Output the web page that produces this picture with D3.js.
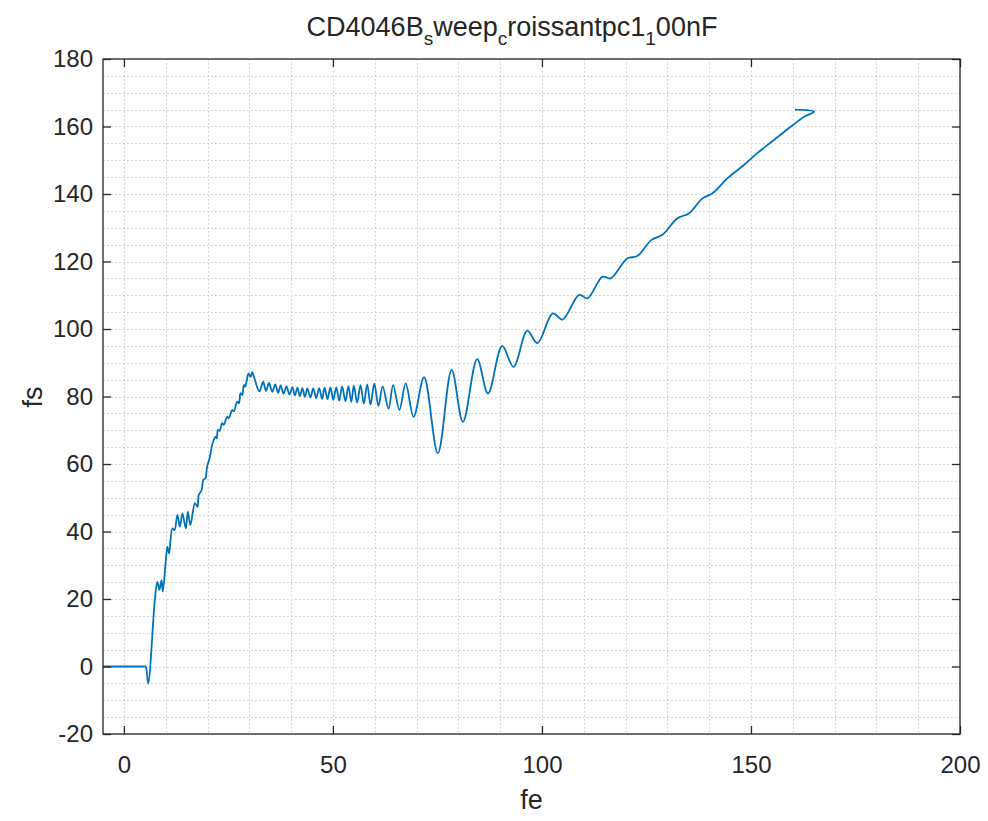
<!DOCTYPE html>
<html>
<head>
<meta charset="utf-8">
<script src="https://cdn.jsdelivr.net/npm/d3@7"></script>
<style>
  html, body { margin: 0; padding: 0; background: #ffffff; }
  svg { display: block; }
  text { font-family: "Liberation Sans", Arial, Helvetica, sans-serif; fill: #262626; }
</style>
</head>
<body>
<svg id="chart" width="988" height="821"></svg>
<script>
// Sweep measurement: input frequency fe against output frequency fs
const fe = [
  -5, -2, 1, 4, 4.8, 5.2, 5.8, 7.4, 8.0, 8.5, 9.0, 9.3, 10.0, 10.4, 10.8, 11.6, 12.1, 12.8, 13.4, 14.0,
  14.8, 15.3, 15.9, 17.0, 17.6, 17.9, 18.6, 19.0, 19.5, 19.9, 20.6, 21.1, 21.9, 22.2,
  22.5, 22.9, 23.5, 23.9, 24.7, 25.1, 25.9, 26.3, 27.1, 27.5, 27.9, 28.3, 28.7, 29.0,
  29.4, 29.8, 30.3, 30.7, 31.2,
  32.4, 33.3, 34.0, 34.7, 35.5, 36.2, 36.9, 37.5, 38.2, 38.9, 39.6, 40.3, 40.9, 41.5,
  42.1, 42.7, 43.3, 43.9, 44.6, 45.3, 46.0, 46.7, 47.4, 48.0, 48.7, 49.4, 50.1, 50.8,
  51.5, 52.2, 53.0, 53.7, 54.4, 55.0, 55.8, 56.6, 57.4, 58.2, 59.0, 59.9, 60.9, 61.9,
  63.3, 64.4, 65.9, 67.4, 69.3, 71.8, 75.1, 78.4, 81.1, 84.5, 87.1, 90.5, 93.2, 96.5,
  98.9, 102.6, 104.9, 108.9, 110.9, 114.5, 116.4, 120.4, 122.8, 126.2, 128.8, 132.4,
  135.2, 138.4, 140.8, 144.4, 148.3, 151.5, 155.5, 159.5, 162.7, 165.1, 160.5
];
const fs = [
  0, 0, 0, 0, 0, 0, -5, 19.7, 25.1, 22.7, 25.6, 22.2, 31.0, 35.5, 33.5, 40.9, 40.4, 44.9, 41.4, 45.4,
  40.9, 45.9, 41.9, 48.4, 47.3, 50.8, 52.3, 55.3, 55.8, 59.2, 62.2, 65.6, 68.1, 67.6,
  70.1, 69.8, 72.1, 71.6, 74.0, 73.6, 76.0, 75.6, 78.5, 78.0, 81.0, 80.4, 83.4, 82.9,
  84.9, 86.8, 85.8, 87.2, 85.5,
  81.5, 84.3, 81.7, 84.0, 81.4, 83.6, 81.1, 83.3, 80.8, 83.0, 80.6, 82.8, 80.3, 82.6,
  80.1, 82.5, 79.9, 82.4, 79.7, 82.4, 79.5, 82.5, 79.3, 82.6, 79.2, 82.7, 79.0, 82.8,
  78.8, 83.0, 78.6, 83.1, 78.4, 83.2, 78.2, 83.4, 77.9, 83.6, 77.6, 83.8, 77.2, 83.0,
  76.4, 83.4, 76.0, 83.9, 74.0, 85.7, 63.2, 87.9, 72.5, 91.1, 80.9, 95.0, 88.8, 99.5,
  95.8, 104.6, 102.8, 110.1, 109.1, 115.5, 115.0, 120.9, 121.6, 126.4, 127.9, 132.8,
  134.3, 138.7, 140.2, 144.7, 148.6, 152.1, 156.0, 159.9, 162.9, 164.4, 165.0
];

const xTicks = [0, 50, 100, 150, 200];
const yTicks = [-20, 0, 20, 40, 60, 80, 100, 120, 140, 160, 180];
const xMinor = d3.range(0, 201, 10);
const yMinor = d3.range(-20, 181, 5);

const svg = d3.select("#chart");
const plotL = 103, plotR = 960, plotT = 59, plotB = 734;

const x = d3.scaleLinear().domain([-5, 200]).range([plotL, plotR]);
const y = d3.scaleLinear().domain([-20, 180]).range([plotB, plotT]);

const ink = "#262626";

// dotted grid (major and minor lines drawn alike)
const grid = svg.append("g").attr("stroke", "#cdcdcd").attr("stroke-width", 1)
  .attr("stroke-dasharray", "1.5,2.5").attr("fill", "none");
grid.selectAll("line.v").data(xMinor).join("line").attr("class", "v")
  .attr("x1", d => Math.round(x(d)) + 0.5).attr("x2", d => Math.round(x(d)) + 0.5)
  .attr("y1", plotT).attr("y2", plotB);
grid.selectAll("line.h").data(yMinor).join("line").attr("class", "h")
  .attr("y1", d => Math.round(y(d)) + 0.5).attr("y2", d => Math.round(y(d)) + 0.5)
  .attr("x1", plotL).attr("x2", plotR);

// measured curve
const pts = d3.zip(fe, fs);
svg.append("clipPath").attr("id", "plotArea").append("rect")
  .attr("x", plotL).attr("y", plotT).attr("width", plotR - plotL).attr("height", plotB - plotT);
svg.append("path")
  .datum(pts)
  .attr("clip-path", "url(#plotArea)")
  .attr("fill", "none")
  .attr("stroke", "#0072BD")
  .attr("stroke-width", 1.8)
  .attr("stroke-linejoin", "round")
  .attr("d", d3.line().x(d => x(d[0])).y(d => y(d[1])).curve(d3.curveCatmullRom.alpha(0.5)));

// axes with inward ticks on all four sides
const tickLen = 8;
const plain = d => String(d);
const axisBottom = d3.axisBottom(x).tickValues(xTicks).tickFormat(plain).tickSizeInner(-tickLen).tickSizeOuter(0).tickPadding(tickLen + 14);
const axisTop = d3.axisTop(x).tickValues(xTicks).tickSizeInner(-tickLen).tickSizeOuter(0).tickFormat("");
const axisLeft = d3.axisLeft(y).tickValues(yTicks).tickFormat(plain).tickSizeInner(-tickLen).tickSizeOuter(0).tickPadding(tickLen + 2);
const axisRight = d3.axisRight(y).tickValues(yTicks).tickSizeInner(-tickLen).tickSizeOuter(0).tickFormat("");

function styleAxis(g) {
  g.select(".domain").remove();
  g.selectAll(".tick line").attr("stroke", ink).attr("stroke-width", 1.3);
  g.selectAll(".tick text").attr("fill", ink).style("font-size", "24px")
    .style("font-family", "'Liberation Sans', Arial, Helvetica, sans-serif");
}
svg.append("g").attr("transform", `translate(0,${plotB})`).call(axisBottom).call(styleAxis);
svg.append("g").attr("transform", `translate(0,${plotT})`).call(axisTop).call(styleAxis);
svg.append("g").attr("transform", `translate(${plotL},0)`).call(axisLeft).call(styleAxis);
svg.append("g").attr("transform", `translate(${plotR},0)`).call(axisRight).call(styleAxis);

// box
svg.append("rect").attr("x", plotL).attr("y", plotT).attr("width", plotR - plotL).attr("height", plotB - plotT)
  .attr("fill", "none").attr("stroke", ink).attr("stroke-width", 1.3);

// title with TeX-style subscripts
const title = svg.append("text").attr("x", 512).attr("y", 36).attr("text-anchor", "middle")
  .style("font-size", "27px");
const parts = [["CD4046B", 0], ["s", 1], ["weep", 0], ["c", 1], ["roissantpc1", 0], ["1", 1], ["00nF", 0]];
let prevSub = 0;
parts.forEach(([t, sub]) => {
  const shift = (sub - prevSub) * 9;
  title.append("tspan").attr("dy", shift).style("font-size", sub ? "19px" : "27px").text(t);
  prevSub = sub;
});

// axis labels
svg.append("text").attr("x", (plotL + plotR) / 2).attr("y", 809).attr("text-anchor", "middle")
  .style("font-size", "27px").text("fe");
svg.append("text").attr("transform", "translate(42,397) rotate(-90)").attr("text-anchor", "middle")
  .style("font-size", "27px").text("fs");
</script>
</body>
</html>
